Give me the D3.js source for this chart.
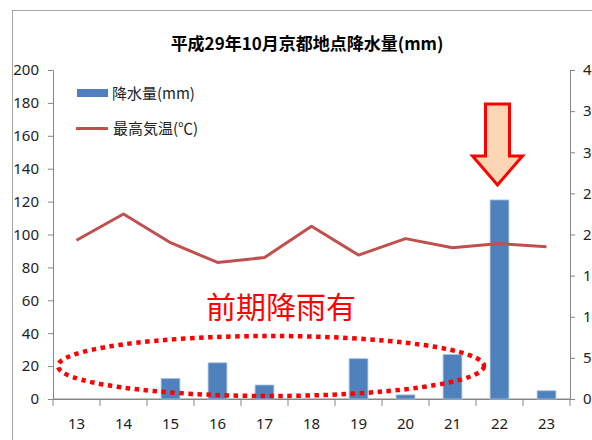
<!DOCTYPE html>
<html>
<head>
<meta charset="utf-8">
<script src="https://cdn.jsdelivr.net/npm/d3@7"></script>
<style>
  html, body { margin: 0; padding: 0; background: #fff; }
  svg { display: block; font-family: "Noto Sans CJK JP", "Noto Sans", sans-serif; }
</style>
</head>
<body>
<svg id="chart" width="592" height="440"></svg>
<script>
// October 2017, Kyoto: daily precipitation (mm) and daily maximum temperature (°C)
const days = ["13", "14", "15", "16", "17", "18", "19", "20", "21", "22", "23"];
const rainfall = [0, 0, 12.5, 22, 8.5, 0, 24.5, 2.5, 27, 121, 5];
const maxTemp = [19.3, 22.5, 19.0, 16.6, 17.2, 21.0, 17.5, 19.5, 18.4, 18.9, 18.5];
const rainTicks = [0, 20, 40, 60, 80, 100, 120, 140, 160, 180, 200];
const tempTicks = [0, 5, 10, 15, 20, 25, 30, 35, 40];

const svg = d3.select("#chart");
const plot = { left: 53, right: 570, top: 70, bottom: 399 };
const axisColor = "#868686";

// outer frame of the chart object
svg.append("rect")
  .attr("x", 12.5).attr("y", 10.5)
  .attr("width", 600).attr("height", 460)
  .attr("fill", "#fff").attr("stroke", "#a6a6a6").attr("stroke-width", 1);

const x = d3.scaleBand().domain(days).range([plot.left, plot.right]).paddingInner(0).paddingOuter(0);
const yRain = d3.scaleLinear().domain([0, 200]).range([plot.bottom, plot.top]);
const yTemp = d3.scaleLinear().domain([0, 40]).range([plot.bottom, plot.top]);

// title
svg.append("text")
  .attr("x", 307).attr("y", 50)
  .attr("text-anchor", "middle")
  .attr("font-size", 17).attr("font-weight", "bold")
  .attr("fill", "#000")
  .text("平成29年10月京都地点降水量(mm)");

// left axis (precipitation)
const gL = svg.append("g").attr("transform", `translate(${plot.left},0)`)
  .call(d3.axisLeft(yRain).tickValues(rainTicks).tickSize(5).tickPadding(9).tickSizeOuter(0));
// right axis (temperature)
const gR = svg.append("g").attr("transform", `translate(${plot.right},0)`)
  .call(d3.axisRight(yTemp).tickValues(tempTicks).tickSize(5).tickPadding(8).tickSizeOuter(0));
// bottom axis with ticks on category boundaries
const gB = svg.append("g").attr("transform", `translate(0,${plot.bottom})`)
  .call(d3.axisBottom(x).tickSize(0).tickPadding(19));
gB.append("path").attr("d", `M${plot.left},0H${plot.right}`).attr("stroke", axisColor);
const bounds = days.map(d => x(d)).concat([plot.right]);
gB.selectAll("line.sep").data(bounds).join("line")
  .attr("class", "sep")
  .attr("x1", d => d).attr("x2", d => d)
  .attr("y1", 0).attr("y2", 7)
  .attr("stroke", axisColor);

[gL, gR, gB].forEach(g => {
  g.selectAll(".domain").attr("stroke", axisColor);
  g.selectAll(".tick line").attr("stroke", axisColor);
  g.selectAll(".tick text")
    .attr("font-family", "'Noto Sans', sans-serif")
    .attr("font-size", 15).attr("fill", "#222");
});

// precipitation bars
const bw = x.bandwidth() / 2.5;
svg.append("g").selectAll("rect").data(rainfall).join("rect")
  .attr("x", (d, i) => x(days[i]) + (x.bandwidth() - bw) / 2)
  .attr("y", d => yRain(d))
  .attr("width", bw)
  .attr("height", d => plot.bottom - yRain(d))
  .attr("fill", "#4f81bd")
  .attr("stroke", "#a9c2e3").attr("stroke-width", 0.8)
  .attr("visibility", d => d > 0 ? "visible" : "hidden");

// maximum temperature line
const line = d3.line()
  .x((d, i) => x(days[i]) + x.bandwidth() / 2)
  .y(d => yTemp(d));
svg.append("path").datum(maxTemp)
  .attr("d", line)
  .attr("fill", "none")
  .attr("stroke", "#c0504d").attr("stroke-width", 3)
  .attr("stroke-linejoin", "round");

// legend
const lg = svg.append("g");
lg.append("rect").attr("x", 77).attr("y", 89).attr("width", 31).attr("height", 8).attr("fill", "#4f81bd");
lg.append("text").attr("x", 112).attr("y", 99).attr("font-size", 15).attr("fill", "#222").text("降水量(mm)");
lg.append("line").attr("x1", 76).attr("x2", 108).attr("y1", 128.5).attr("y2", 128.5)
  .attr("stroke", "#c0504d").attr("stroke-width", 3);
lg.append("text").attr("x", 113).attr("y", 134).attr("font-size", 15).attr("fill", "#222").text("最高気温(℃)");

// annotation: arrow pointing at the heavy-rain day
const ax = x("22") + x.bandwidth() / 2 - 2;
const arrow = `M${ax - 12},104 H${ax + 12} V156 H${ax + 25} L${ax},185 L${ax - 25},156 H${ax - 12} Z`;
svg.append("path").attr("d", arrow)
  .attr("fill", "#fcd5b5").attr("stroke", "#ff0000").attr("stroke-width", 3)
  .attr("stroke-linejoin", "miter");

// annotation: dotted ellipse around the preceding rainfall
svg.append("ellipse")
  .attr("cx", 271).attr("cy", 366).attr("rx", 213).attr("ry", 30)
  .attr("fill", "none")
  .attr("stroke", "#ff0000").attr("stroke-width", 4.5)
  .attr("stroke-dasharray", "4.5 4.5");

svg.append("text")
  .attr("x", 281).attr("y", 318)
  .attr("text-anchor", "middle")
  .attr("font-size", 30).attr("fill", "#ff0000")
  .text("前期降雨有");
</script>
</body>
</html>
